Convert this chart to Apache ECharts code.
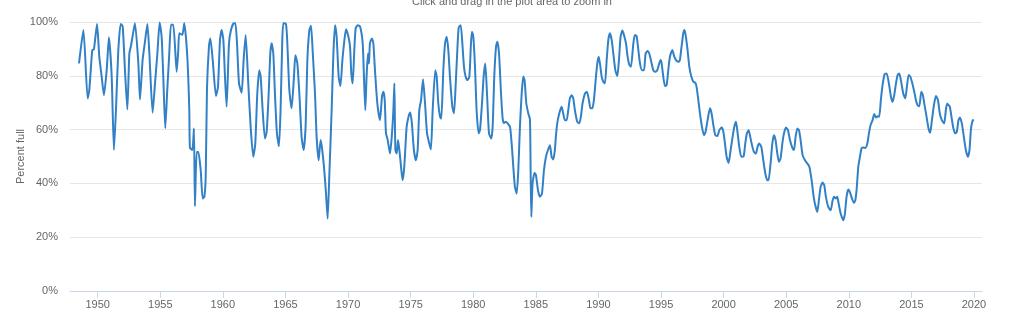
<!DOCTYPE html>
<html>
<head>
<meta charset="utf-8">
<script src="https://cdn.jsdelivr.net/npm/echarts/dist/echarts.min.js"></script>
<style>
html,body{margin:0;padding:0;background:#fff;}
#chart{width:1024px;height:326px;}
</style>
</head>
<body>
<div id="chart"></div>
<script>
const titleText = 'Click and drag in the plot area to zoom in';
const yAxisName = 'Percent full';
const xTickYears = [1950,1955,1960,1965,1970,1975,1980,1985,1990,1995,2000,2005,2010,2015,2020];
const yTicks = [0,20,40,60,80,100];

const years = [
1948.51,1948.86,1949.2,1949.33,1949.57,1949.7,1949.95,1950.13,1950.32,1950.5,1950.72,1950.9,1951.12,1951.3,1951.46,1951.65,1951.84,1952.0,1952.18,1952.37,1952.53,1952.66,1952.85,1952.98,1953.25,1953.38,1953.59,1953.78,1953.97,1954.13,1954.39,1954.58,1954.77,1954.95,1955.11,1955.24,1955.4,1955.56,1955.72,1955.86,1956.04,1956.31,1956.44,1956.52,1956.76,1956.92,1957.16,1957.32,1957.37,1957.56,1957.69,1957.77,1957.91,1958.04,1958.23,1958.39,1958.52,1958.63,1958.73,1958.89,
1959.0,1959.19,1959.45,1959.61,1959.77,1959.9,1960.04,1960.17,1960.3,1960.49,1960.65,1960.87,1961.0,1961.13,1961.29,1961.5,1961.66,1961.82,1962.03,1962.22,1962.43,1962.59,1962.75,1962.91,1963.02,1963.18,1963.36,1963.5,1963.66,1963.79,1963.9,1964.03,1964.16,1964.32,1964.48,1964.61,1964.74,1964.83,1965.04,1965.15,1965.31,1965.49,1965.68,1965.79,1965.95,1966.11,1966.29,1966.45,1966.61,1966.75,1966.91,1967.04,1967.17,1967.36,1967.49,1967.65,1967.81,1967.94,1968.1,1968.24,1968.37,1968.5,1968.69,1968.83,1968.96,1969.09,1969.25,1969.39,1969.55,1969.71,1969.84,1970.03,1970.16,1970.26,1970.37,1970.5,1970.61,1970.77,1970.96,
1971.17,1971.27,1971.38,1971.48,1971.59,1971.67,1971.75,1971.91,1972.02,1972.15,1972.34,1972.55,1972.71,1972.82,1972.93,1973.03,1973.17,1973.35,1973.49,1973.62,1973.7,1973.78,1973.89,1973.99,1974.1,1974.26,1974.36,1974.47,1974.57,1974.68,1974.84,1974.97,1975.1,1975.26,1975.42,1975.56,1975.69,1975.83,1975.99,1976.15,1976.31,1976.49,1976.62,1976.76,1976.97,1977.08,1977.21,1977.35,1977.45,1977.61,1977.75,1977.88,1978.01,1978.14,1978.33,1978.46,1978.59,1978.73,1978.84,1979.0,1979.13,1979.26,1979.39,1979.53,1979.69,1979.82,1979.9,1980.01,1980.14,1980.27,1980.43,1980.54,1980.7,1980.83,1980.96,1981.1,1981.26,1981.44,1981.55,1981.68,1981.82,1981.92,1982.06,1982.22,1982.35,1982.46,1982.62,1982.8,1982.94,
1983.07,1983.2,1983.33,1983.47,1983.6,1983.73,1983.87,1984.0,1984.1,1984.24,1984.4,1984.53,1984.59,1984.64,1984.74,1984.9,1985.01,1985.17,1985.33,1985.49,1985.65,1985.81,1985.97,1986.13,1986.26,1986.39,1986.52,1986.6,1986.71,1986.87,1987.06,1987.19,1987.32,1987.46,1987.59,1987.72,1987.86,1987.99,1988.12,1988.31,1988.47,1988.6,1988.73,1988.92,1989.08,1989.24,1989.37,1989.51,1989.64,1989.78,1989.91,1990.02,1990.12,1990.26,1990.39,1990.52,1990.66,1990.79,1990.92,1991.06,1991.19,1991.35,1991.51,1991.64,1991.77,1991.91,1992.04,1992.2,1992.33,1992.47,1992.6,1992.79,1992.92,1993.05,1993.16,1993.32,1993.48,1993.64,1993.77,1993.93,1994.06,1994.19,1994.38,1994.54,1994.7,1994.86,1994.97,
1995.05,1995.18,1995.32,1995.45,1995.58,1995.71,1995.9,1996.06,1996.24,1996.43,1996.51,1996.64,1996.78,1996.88,1996.99,1997.12,1997.26,1997.42,1997.58,1997.74,1997.84,1997.98,1998.11,1998.27,1998.43,1998.56,1998.72,1998.91,1999.04,1999.18,1999.34,1999.5,1999.66,1999.85,1999.98,2000.11,2000.24,2000.4,2000.56,2000.72,2000.85,2000.99,2001.12,2001.25,2001.41,2001.6,2001.73,2001.86,2002.0,2002.1,2002.24,2002.42,2002.58,2002.71,2002.85,2003.01,2003.17,2003.33,2003.49,2003.59,2003.75,2003.89,2004.02,2004.15,2004.29,2004.42,2004.55,2004.69,2004.82,2004.98,2005.14,2005.3,2005.46,2005.62,2005.75,2005.89,2006.02,2006.15,2006.31,2006.5,2006.69,2006.85,
2007.03,2007.16,2007.29,2007.48,2007.61,2007.75,2007.91,2008.04,2008.17,2008.36,2008.55,2008.71,2008.84,2008.97,2009.08,2009.19,2009.35,2009.56,2009.69,2009.82,2009.96,2010.09,2010.25,2010.41,2010.52,2010.62,2010.76,2010.89,2011.02,2011.16,2011.32,2011.48,2011.61,2011.74,2011.9,2012.03,2012.17,2012.3,2012.43,2012.56,2012.7,2012.86,2013.02,2013.18,2013.37,2013.5,2013.63,2013.77,2013.9,2014.03,2014.16,2014.35,2014.51,2014.64,2014.78,2014.91,2015.04,2015.2,2015.36,2015.49,2015.63,2015.79,2015.92,2016.05,2016.21,2016.37,2016.5,2016.64,2016.8,2016.96,2017.12,2017.27,2017.43,2017.62,2017.75,2017.86,2017.97,2018.07,2018.2,2018.34,2018.5,2018.63,2018.76,2018.87,2019.03,2019.19,2019.35,2019.51,2019.64,2019.75,2019.86,2019.96
];

const pctFull = [
84.6,97.0,71.6,74.6,89.6,89.8,99.3,87.1,79.7,72.8,82.1,94.3,79.7,52.4,67.2,89.6,99.3,98.3,82.1,67.5,88.3,91.1,96.4,99.5,84.6,71.2,85.9,92.7,99.3,88.3,66.3,77.2,88.3,99.8,94.5,79.7,60.5,74.7,88.3,99.0,99.0,81.5,89.6,95.8,95.2,99.5,87.1,67.2,53.3,52.4,60.4,31.5,51.7,51.7,44.9,34.4,35.0,42.4,74.7,91.0,
93.9,85.9,72.5,75.9,93.3,97.0,93.3,79.7,68.5,92.1,97.0,99.5,99.5,92.1,77.2,73.7,85.9,95.2,77.2,61.0,49.9,54.8,73.4,82.1,79.7,67.2,56.7,59.2,73.4,88.3,92.1,88.3,73.4,58.6,53.8,67.2,92.1,99.5,99.3,92.1,74.7,67.9,79.7,87.6,84.6,73.4,57.3,52.4,61.0,85.9,97.0,98.6,89.6,73.4,57.3,48.6,56.1,52.4,44.9,36.2,26.9,42.4,67.2,88.3,98.8,94.5,79.7,76.2,85.9,93.3,97.3,94.5,90.8,80.9,77.2,89.6,97.6,98.8,98.3,
92.1,79.7,67.2,79.7,88.3,84.6,92.1,93.9,92.1,82.1,69.7,63.5,72.2,74.1,71.0,58.6,56.1,51.1,57.3,67.2,77.2,52.4,51.1,56.1,52.4,44.9,41.2,44.9,52.4,61.0,65.0,66.4,62.3,52.4,48.6,52.4,67.2,71.0,78.7,69.7,58.6,54.8,52.6,67.2,82.1,79.7,69.7,64.8,64.1,82.1,92.1,94.5,89.6,79.7,68.5,66.0,75.9,89.6,98.0,98.8,92.1,83.4,79.7,78.4,79.7,92.1,96.4,94.5,83.4,67.2,58.6,59.8,69.7,79.7,84.6,73.4,58.6,56.7,61.0,79.7,90.8,92.7,88.3,73.4,64.1,62.5,62.9,62.0,61.0,
54.8,46.2,38.7,36.2,44.9,61.0,73.4,79.7,78.4,69.7,66.0,63.8,42.4,27.5,40.0,43.9,43.1,37.5,35.0,36.2,44.9,49.9,52.4,54.2,49.9,48.9,52.4,57.3,62.3,66.0,68.5,66.0,63.5,63.5,67.2,71.6,72.8,71.6,67.2,62.9,62.3,64.8,69.7,73.4,74.1,71.0,67.9,67.9,71.0,78.4,84.6,87.1,84.6,79.7,77.8,77.2,85.9,93.3,95.8,93.3,88.3,82.1,79.9,85.9,94.5,96.8,95.2,92.1,87.1,84.0,83.4,92.1,95.2,94.8,90.8,84.6,82.1,82.1,88.3,89.2,88.3,85.9,82.1,81.5,82.1,84.6,85.9,
84.6,79.7,76.2,76.6,82.1,87.1,89.6,87.1,85.6,85.2,85.9,90.8,95.8,97.0,94.5,89.6,83.4,79.7,77.8,77.4,75.9,71.0,66.0,61.0,57.9,59.2,63.5,67.9,66.0,61.7,57.9,57.6,59.8,60.8,59.2,54.8,49.9,47.6,52.4,57.3,61.0,62.9,58.6,53.6,49.9,50.1,54.8,58.6,59.8,57.9,54.8,51.7,51.1,53.6,54.8,53.6,48.6,43.7,41.2,41.2,47.4,54.8,57.9,56.1,51.1,48.0,49.3,54.8,58.6,60.8,59.8,56.1,53.6,52.4,57.3,60.4,59.8,56.1,50.5,48.6,47.4,46.2,
41.2,36.2,32.5,29.4,33.7,38.7,40.3,39.3,35.0,31.3,30.0,33.7,35.0,34.4,35.0,32.5,28.8,26.3,28.8,35.0,37.7,36.8,34.4,32.8,33.7,37.5,46.2,49.9,53.0,53.3,53.2,54.8,58.6,61.7,63.5,65.8,64.5,65.0,64.8,71.0,76.6,80.6,80.9,77.8,72.2,70.3,72.8,77.2,80.3,80.9,78.4,73.4,71.6,75.9,80.3,79.7,77.8,74.7,71.0,69.1,68.7,74.1,72.8,69.1,64.8,60.4,58.8,63.5,69.1,72.5,71.0,66.0,63.5,62.3,67.2,69.7,69.1,68.5,64.8,60.8,58.6,59.2,63.5,64.5,62.3,57.3,52.4,49.9,52.4,59.8,62.9,63.8
];

const seriesData = years.map((y, i) => [y, pctFull[i]]);
const FONT = '"Liberation Sans", Arial, sans-serif';

const chart = echarts.init(document.getElementById('chart'), null, {renderer: 'canvas'});
chart.setOption({
  animation: false,
  backgroundColor: '#ffffff',
  title: {
    text: titleText,
    left: 'center',
    top: -4,
    padding: 0,
    textStyle: {fontSize: 11, fontWeight: 'normal', color: '#666666', fontFamily: FONT}
  },
  grid: {left: 70, right: 42, top: 22, bottom: 35, containLabel: false},
  xAxis: {
    type: 'value',
    min: 1947.79,
    max: 2020.64,
    axisLine: {show: true, lineStyle: {color: '#ccd6eb', width: 1}},
    axisTick: {show: true, customValues: xTickYears, length: 7, lineStyle: {color: '#ccd6eb'}},
    axisLabel: {customValues: xTickYears, color: '#666666', fontSize: 11, fontFamily: FONT, margin: 8,
      formatter: v => String(Math.round(v))},
    splitLine: {show: false}
  },
  yAxis: {
    type: 'value',
    min: yTicks[0],
    max: yTicks[yTicks.length - 1],
    interval: 20,
    name: yAxisName,
    nameLocation: 'middle',
    nameGap: 44,
    nameMoveOverlap: false,
    nameTextStyle: {color: '#666666', fontSize: 11, fontFamily: FONT},
    axisLine: {show: false},
    axisTick: {show: false},
    axisLabel: {formatter: '{value}%', color: '#666666', fontSize: 11, fontFamily: FONT, margin: 12},
    splitLine: {show: true, lineStyle: {color: '#e6e6e6', width: 1}}
  },
  series: [{
    type: 'line',
    data: seriesData,
    showSymbol: false,
    smooth: 0.2,
    lineStyle: {width: 2, color: '#3280c6'},
    itemStyle: {color: '#3280c6'}
  }]
});
</script>
</body>
</html>
